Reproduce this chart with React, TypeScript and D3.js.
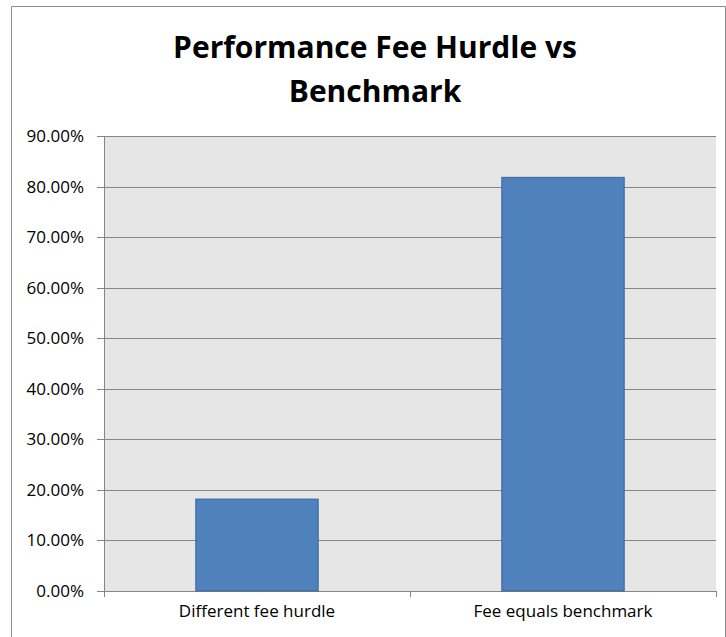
import React from "react";
import * as d3 from "d3";

const categories = ["Different fee hurdle", "Fee equals benchmark"];
const values = [18.18, 81.82];
const yTicks = [0, 10, 20, 30, 40, 50, 60, 70, 80, 90];
const titleLines = ["Performance Fee Hurdle vs", "Benchmark"];

export default function App() {
  const W = 726, H = 637;
  const plot = { left: 104, right: 716, top: 136, bottom: 591 };
  const x = d3.scaleBand<string>().domain(categories).range([plot.left, plot.right]).paddingInner(0.6).paddingOuter(0.3);
  const y = d3.scaleLinear().domain([0, 90]).range([plot.bottom, plot.top]);
  const band = (plot.right - plot.left) / categories.length;
  const font = "'Open Sans', sans-serif";
  return (
    <svg width={W} height={H} style={{ position: "absolute", left: 0, top: 0 }} fontFamily={font}>
      <rect x={0} y={0} width={W} height={H} fill="#fff" />
      <path d={`M11.5,${H} V6.5 H725.5 V${H}`} fill="none" stroke="#8c8c8c" strokeWidth={1} />
      {titleLines.map((t, i) => (
        <text key={i} x={375} y={58 + i * 44} textAnchor="middle" fontSize={30} fontWeight="bold" fill="#000">{t}</text>
      ))}
      <rect x={plot.left} y={plot.top} width={plot.right - plot.left} height={plot.bottom - plot.top} fill="#e6e6e6" />
      {yTicks.map((t) => (
        <g key={t}>
          <line x1={97} x2={plot.right} y1={Math.round(y(t)) + 0.5} y2={Math.round(y(t)) + 0.5} stroke="#868686" strokeWidth={1} />
          <text x={84} y={y(t) + 6} textAnchor="end" fontSize={17} fill="#000">{t.toFixed(2)}%</text>
        </g>
      ))}
      {categories.map((c, i) => (
        <g key={c}>
          <rect x={x(c)!} y={y(values[i])} width={x.bandwidth()} height={plot.bottom - y(values[i])} fill="#4f81bd" stroke="#3d6596" strokeWidth={1} />
          <text x={plot.left + band * (i + 0.5)} y={617} textAnchor="middle" fontSize={17} fill="#000">{c}</text>
        </g>
      ))}
      <line x1={plot.left + 0.5} x2={plot.left + 0.5} y1={plot.top} y2={plot.bottom + 6} stroke="#868686" />
      {[0, 1, 2].map((i) => (
        <line key={i} x1={Math.round(plot.left + band * i) + 0.5} x2={Math.round(plot.left + band * i) + 0.5} y1={plot.bottom} y2={plot.bottom + 6} stroke="#868686" />
      ))}
    </svg>
  );
}
